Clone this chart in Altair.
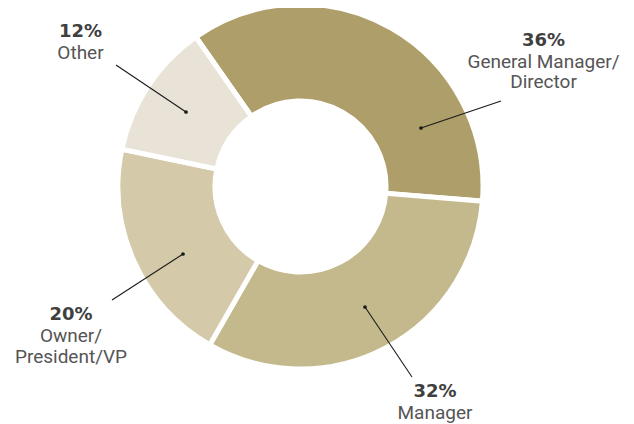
import math
import altair as alt
import pandas as pd

# ---- data ----
categories = ["General Manager/Director", "Manager", "Owner/President/VP", "Other"]
shares = [36, 32, 20, 12]
percent_labels = ["36%", "32%", "20%", "12%"]
name_lines = [["General Manager/", "Director"], ["Manager"], ["Owner/", "President/VP"], ["Other"]]
colors = ["#ae9f6a", "#c4b98d", "#d4caa9", "#e8e3d6"]

# ---- layout (page pixel coordinates; the page has an 8px margin) ----
W, H = 618, 416
OFF = 8
CX, CY = 300.5 - OFF, 186.5 - OFF
START = math.radians(-35)
R_OUT, R_IN, GAP = 180, 88, 5

leader = {
    "General Manager/Director": ((421, 128), (501, 101)),
    "Manager": ((365, 307), (412, 377)),
    "Owner/President/VP": ((183, 254), (112, 300)),
    "Other": ((186, 112), (116, 65)),
}
label_anchor = {  # center x, baseline of percent line
    "General Manager/Director": (543.5, 45.7),
    "Manager": (435, 397),
    "Owner/President/VP": (71, 320.3),
    "Other": (80.5, 37.3),
}
LINE1 = 22   # percent baseline -> first name line
LINE = 20.7  # between name lines

slices = pd.DataFrame({
    "category": categories,
    "share": shares,
    "idx": list(range(len(categories))),
})

lead_rows, pct_rows, name_rows = [], [], []
for cat, pct, lines in zip(categories, percent_labels, name_lines):
    (x1, y1), (x2, y2) = leader[cat]
    lead_rows.append({"category": cat, "x": x1 - OFF, "y": y1 - OFF, "x2": x2 - OFF, "y2": y2 - OFF})
    ax, ay = label_anchor[cat]
    pct_rows.append({"text": pct, "x": ax - OFF, "y": ay - OFF})
    for i, ln in enumerate(lines):
        name_rows.append({"text": ln, "x": ax - OFF, "y": ay - OFF + LINE1 + i * LINE})
lead = pd.DataFrame(lead_rows)
pct_df = pd.DataFrame(pct_rows)
name_df = pd.DataFrame(name_rows)

arcs = alt.Chart(slices).mark_arc(
    innerRadius=R_IN - GAP / 2, outerRadius=R_OUT + GAP / 2,
    stroke="white", strokeWidth=GAP,
).encode(
    theta=alt.Theta("share:Q", stack=True,
                    scale=alt.Scale(range=[START, START + 2 * math.pi])),
    order=alt.Order("idx:Q"),
    color=alt.Color("category:N", scale=alt.Scale(domain=categories, range=colors), legend=None),
    x=alt.value(CX),
    y=alt.value(CY),
)

rules = alt.Chart(lead).mark_rule(color="#1a1a1a", strokeWidth=1.1).encode(
    x=alt.X("x:Q", scale=None), y=alt.Y("y:Q", scale=None),
    x2="x2:Q", y2="y2:Q",
)

dots = alt.Chart(lead).mark_circle(color="#1a1a1a", opacity=1, size=14).encode(
    x=alt.X("x:Q", scale=None), y=alt.Y("y:Q", scale=None),
)

pct_text = alt.Chart(pct_df).mark_text(
    font="DejaVu Sans", fontWeight="bold", fontSize=18, color="#3f3f3f",
    align="center", baseline="alphabetic",
).encode(
    x=alt.X("x:Q", scale=None), y=alt.Y("y:Q", scale=None), text="text:N",
)

name_text = alt.Chart(name_df).mark_text(
    font="Roboto", fontWeight="normal", fontSize=19, color="#555555",
    align="center", baseline="alphabetic",
).encode(
    x=alt.X("x:Q", scale=None), y=alt.Y("y:Q", scale=None), text="text:N",
)

chart = alt.layer(arcs, rules, dots, pct_text, name_text).properties(
    width=W, height=H, padding=0, autosize=alt.AutoSizeParams(type="none"),
).configure_view(stroke=None)

chart.save("out.html", embed_options={"renderer": "svg", "actions": False})
